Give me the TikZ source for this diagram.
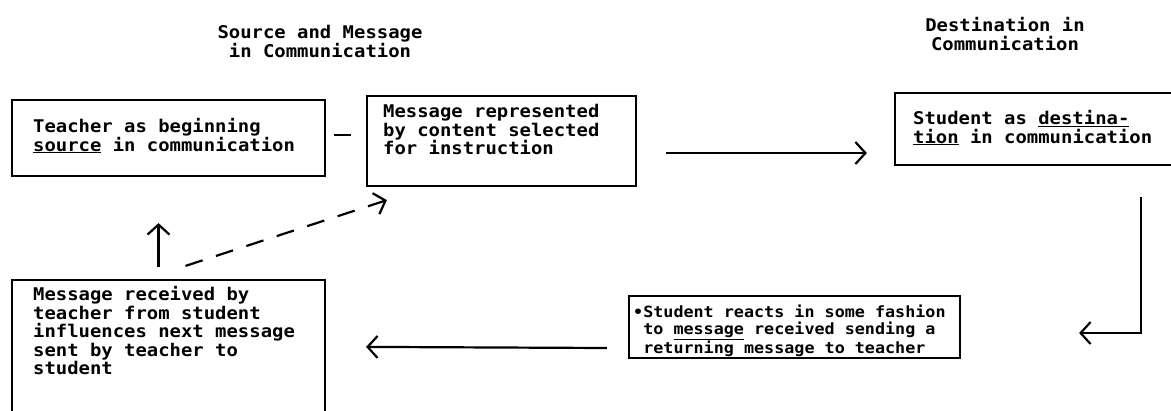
\documentclass[tikz,border=0pt]{standalone}
\usepackage{fontspec}
\setmonofont{DejaVu Sans Mono}[FakeStretch=1.08]
\usetikzlibrary{arrows.meta,calc}

\tikzset{
  box/.style={draw, line width=2.2pt, inner sep=0pt},
  txt/.style={font=\ttfamily\bfseries\fontsize{17.5}{18.6}\selectfont, align=left, anchor=north west, inner sep=0pt},
  small/.style={font=\ttfamily\bfseries\fontsize{15.5}{16.6}\selectfont},
  ttl/.style={font=\ttfamily\bfseries\fontsize{17.5}{19}\selectfont, align=center, anchor=north, inner sep=0pt},
  link/.style={line width=2.2pt},
  flow/.style={line width=2.2pt, -{Straight Barb[length=10pt,width=22pt,line width=2.2pt]}},
}

\begin{document}
\begin{tikzpicture}[x=1pt,y=-1pt]
\useasboundingbox (0,0) rectangle (1171,410);
\clip (0,0) rectangle (1171,410);

% headings
\node[ttl] (h1) at (320,25) {Source and Message\\in Communication};
\node[ttl] (h2) at (1005,17) {Destination in\\Communication};

% boxes
\node[box, minimum width=313pt, minimum height=76pt] (b1) at (168.5,138) {};
\node[box, minimum width=269pt, minimum height=90pt] (b2) at (501.5,141) {};
\node[box, minimum width=280pt, minimum height=72pt] (b3) at (1035,129) {};
\node[box, minimum width=331pt, minimum height=62pt] (b4) at (794.5,327) {};
\node[box, minimum width=313pt, minimum height=160pt] (b5) at (168.5,360) {};

% box texts
\node[txt] (t1) at (33,118) {Teacher as beginning\\\underline{source} in communication};
\node[txt] (t2) at (383,104) {Message represented\\by content selected\\for instruction};
\node[txt] (t3) at (913,110) {Student as \underline{destina-}\\\underline{tion} in communication};
\node[txt, small] (t4) at (633,305) {•Student reacts in some fashion\\\phantom{•}to \underline{message} received sending a\\\phantom{•}returning message to teacher};
\node[txt] (t5) at (33,286) {Message received by\\teacher from student\\influences next message\\sent by teacher to\\student};

% connectors
\draw[link] ($(b1.east)+(8,-3)$) -- ($(b2.west)+(-15,-6)$);
\draw[flow] ($(b2.east)+(29,12)$) -- ($(b3.west)+(-27,24)$);
\draw[flow] ($(b3.south)+(106,31)$) |- ($(b4.east)+(118,6)$);
\draw[flow] ($(b4.west)+(-21,21)$) -- ($(b5.north east)+(40,68)$);
\draw[flow] ($(b5.north)+(-10,-12)$) -- ($(b1.south)+(-10,46)$);
\draw[flow, dashed, dash pattern=on 18pt off 14pt] ($(b5.north)+(17,-13)$) -- ($(b2.south west)+(21,13)$);
\end{tikzpicture}
\end{document}
